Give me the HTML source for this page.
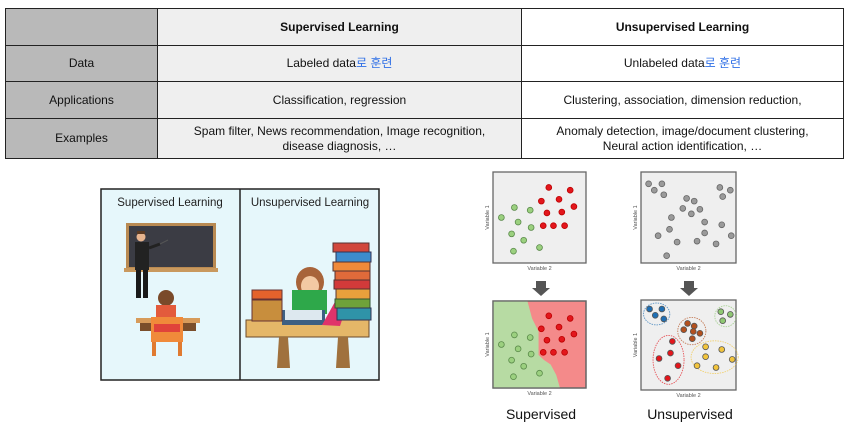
<!DOCTYPE html>
<html><head><meta charset="utf-8">
<style>
body{margin:0;width:848px;height:422px;background:#fff;position:relative;overflow:hidden;font-family:"Liberation Sans","Noto Sans CJK KR",sans-serif;}
table{position:absolute;left:5px;top:8px;border-collapse:collapse;font-size:12px;color:#111;}
td{border:1.5px solid #222;text-align:center;padding:0;line-height:15px;}
.c1{width:151px;background:#b9b9b9;}
.c2{width:363px;background:#efefef;}
.c3{width:321px;background:#fff;}
.kr{color:#2f6fe6;}
#vis{position:absolute;left:0;top:0;}
</style></head><body>
<table>
<tr style="height:37px"><td class="c1"></td><td class="c2"><b>Supervised Learning</b></td><td class="c3"><b>Unsupervised Learning</b></td></tr>
<tr style="height:36px"><td class="c1">Data</td><td class="c2">Labeled data<span class="kr">로 훈련</span></td><td class="c3">Unlabeled data<span class="kr">로 훈련</span></td></tr>
<tr style="height:37px"><td class="c1">Applications</td><td class="c2">Classification, regression</td><td class="c3">Clustering, association, dimension reduction,</td></tr>
<tr style="height:40px"><td class="c1">Examples</td><td class="c2">Spam filter, News recommendation, Image recognition,<br>disease diagnosis, …</td><td class="c3">Anomaly detection, image/document clustering,<br>Neural action identification, …</td></tr>
</table>

<svg id="vis" width="848" height="422" xmlns="http://www.w3.org/2000/svg">
<g>
<rect x="101" y="189" width="278" height="191" fill="#e6f7fb" stroke="#222" stroke-width="1.5"/>
<line x1="240" y1="189" x2="240" y2="380" stroke="#222" stroke-width="1.5"/>
<text x="170" y="206" font-size="11.5" text-anchor="middle" fill="#222">Supervised Learning</text>
<text x="310" y="206" font-size="11.5" text-anchor="middle" fill="#222">Unsupervised Learning</text>
<g>
<rect x="126" y="223" width="90" height="49" fill="#b98a52"/>
<rect x="129" y="226" width="84" height="41" fill="#3b3c44"/>
<rect x="124" y="268" width="94" height="4" fill="#c9995e"/>
<circle cx="141" cy="237" r="4.5" fill="#e7b48e"/><rect x="137" y="231" width="8" height="3" fill="#5a3a22"/>
<rect x="135" y="242" width="14" height="28" fill="#222"/>
<line x1="149" y1="248" x2="160" y2="244" stroke="#222" stroke-width="3"/>
<line x1="160" y1="244" x2="168" y2="240" stroke="#555" stroke-width="1"/>
<rect x="136" y="270" width="5" height="28" fill="#1a1a1a"/><rect x="143" y="270" width="5" height="28" fill="#1a1a1a"/>
<circle cx="166" cy="298" r="8" fill="#7a4a2a"/>
<rect x="156" y="305" width="20" height="13" fill="#e35b3c"/>
<rect x="136" y="318" width="64" height="5" fill="#d79b5a"/>
<rect x="140" y="323" width="56" height="8" fill="#7a4e2a"/>
<rect x="151" y="317" width="32" height="25" fill="#f08a3a"/>
<rect x="154" y="324" width="26" height="8" fill="#e0433a"/>
<rect x="152" y="342" width="4" height="14" fill="#e07a30"/><rect x="178" y="342" width="4" height="14" fill="#e07a30"/>
</g>
<g>
<rect x="246" y="320" width="123" height="17" fill="#e5b768" stroke="#6b4a2a"/>
<polygon points="279,337 288,337 290,368 277,368" fill="#a0713d"/>
<polygon points="338,337 348,337 350,368 336,368" fill="#a0713d"/>
<ellipse cx="310" cy="282" rx="14" ry="15" fill="#a8643a"/>
<ellipse cx="310" cy="286" rx="9" ry="10" fill="#f3c9a3"/>
<rect x="292" y="290" width="35" height="24" fill="#2ea84a"/>
<rect x="282" y="310" width="43" height="15" fill="#3d5f82"/><rect x="285" y="310" width="37" height="10" fill="#dde8ef"/>
<polygon points="322,325 336,300 346,308 340,326" fill="#e0336a"/>
<rect x="252" y="290" width="30" height="9" fill="#e4622c" stroke="#633"/>
<rect x="252" y="300" width="30" height="21" fill="#c88e3d" stroke="#633"/>
<rect x="333" y="243" width="36" height="9" fill="#d1473c" stroke="#533"/>
<rect x="336" y="252" width="35" height="10" fill="#3d8ccd" stroke="#335"/>
<rect x="333" y="262" width="37" height="9" fill="#f08a3a" stroke="#533"/>
<rect x="335" y="271" width="35" height="9" fill="#e06a3a" stroke="#533"/>
<rect x="334" y="280" width="36" height="9" fill="#d23a3a" stroke="#533"/>
<rect x="336" y="289" width="34" height="10" fill="#e8a03c" stroke="#533"/>
<rect x="335" y="299" width="35" height="9" fill="#6fa23a" stroke="#353"/>
<rect x="337" y="308" width="34" height="12" fill="#2f93a8" stroke="#335"/>
</g>
</g>
<g id="scatters"></g>
<text x="541" y="419" font-size="14" text-anchor="middle" fill="#111">Supervised</text>
<text x="690" y="419" font-size="14" text-anchor="middle" fill="#111">Unsupervised</text>
<polygon points="536,281 546,281 546,288 550,288 541,296 532,288 536,288" fill="#555"/>
<polygon points="684,281 694,281 694,288 698,288 689,296 680,288 684,288" fill="#555"/>
</svg>
<script>
// data: Variable 2 (x) and Variable 1 (y), 0-100 scale
const redX=[60,83,52,71,87,58,74,54,65,77];
const redY=[83,80,68,70,62,55,56,41,41,41];
const greenX=[23,40,9,27,41,20,33,50,22];
const greenY=[61,58,50,45,39,32,25,17,13];
const greyX=[8,22,14,24,83,94,86,48,56,44,62,53,32,67,85,30,67,18,95,38,59,79,27];
const greyY=[87,87,80,75,83,80,73,71,68,60,59,54,50,45,42,37,33,30,30,23,24,21,8];
const boundaryX=[37,42,49,49,55,62,68,72];
const boundaryY=[100,80,65,38,32,27,15,0];
const clusterNames=['blue','brown','green','red','yellow'];
const clusterColors=['#1f6fb4','#b3501e','#8fc873','#e3161c','#f2c43c'];
const clusterX=[[9,22,15,24],[49,56,45,55,62,54],[84,94,86],[33,31,19,39,28],[68,85,68,96,59,79]];
const clusterY=[[90,90,83,79],[74,71,67,65,63,57],[87,84,77],[54,41,35,27,13],[48,45,37,34,27,25]];
const NS='http://www.w3.org/2000/svg';
const root=document.getElementById('scatters');
function mk(t,a,p){const e=document.createElementNS(NS,t);for(const k in a)e.setAttribute(k,a[k]);(p||root).appendChild(e);return e;}
function panel(x,y,w,h,name){
 const g=mk('g',{});
 
 
 const r=mk('rect',{x:x,y:y,width:w,height:h,fill:'#efefef',stroke:'#666','stroke-width':1.3},g);
 const sx=v=>x+w*v/100, sy=v=>y+h*(1-v/100);
 const t1=mk('text',{x:x+w/2,y:y+h+7,'font-size':5.5,'text-anchor':'middle',fill:'#555'},g);t1.textContent='Variable 2';
 
 
 const t2=mk('text',{x:x-4,y:y+h/2,'font-size':5.5,'text-anchor':'middle',fill:'#555',transform:`rotate(-90 ${x-4} ${y+h/2})`},g);t2.textContent='Variable 1';
 
 
 return {g,sx,sy,r};
}
function dots(P,xs,ys,fill,stroke,name){xs.forEach((v,i)=>{const c=mk('circle',{cx:P.sx(v),cy:P.sy(ys[i]),r:2.9,fill:fill,stroke:stroke,'stroke-width':0.8},P.g);
 
 });}
const A=panel(493,172,93,91,'supervised-input-plot');
dots(A,redX,redY,'#e3161c','#b00','red-point');
dots(A,greenX,greenY,'#9bd07f','#5a8a4a','green-point');
const B=panel(641,172,95,91,'unsupervised-input-plot');
dots(B,greyX,greyY,'#9a9a9a','#666','grey-point');
const C=panel(493,301,93,87,'supervised-result-plot');
C.r.setAttribute('fill','#f48a8a');
let d=`M${C.sx(0)},${C.sy(100)} `+boundaryX.map((v,i)=>`L${C.sx(v)},${C.sy(boundaryY[i])}`).join(' ')+` L${C.sx(0)},${C.sy(0)} Z`;
const reg=mk('path',{d:d,fill:'#b7dba3'},C.g);


mk('rect',{x:493,y:301,width:93,height:87,fill:'none',stroke:'#666','stroke-width':1.3},C.g);
dots(C,redX,redY,'#e3161c','#b00','red-point');
dots(C,greenX,greenY,'#9bd07f','#5a8a4a','green-point');
const D=panel(641,300,95,90,'unsupervised-result-plot');
clusterX.forEach((xs,k)=>{
 const ys=clusterY[k];
 const mnx=Math.min(...xs),mxx=Math.max(...xs),mny=Math.min(...ys),mxy=Math.max(...ys);
 const e=mk('ellipse',{cx:D.sx((mnx+mxx)/2),cy:D.sy((mny+mxy)/2),rx:(D.sx(mxx)-D.sx(mnx))/2+6,ry:(D.sy(mny)-D.sy(mxy))/2+6,fill:'none',stroke:clusterColors[k],'stroke-width':0.9,'stroke-dasharray':'1.5,1','opacity':0.7},D.g);
 
 
 dots(D,xs,ys,clusterColors[k],'#555',clusterNames[k]+'-point');
});
</script>
</body></html>
